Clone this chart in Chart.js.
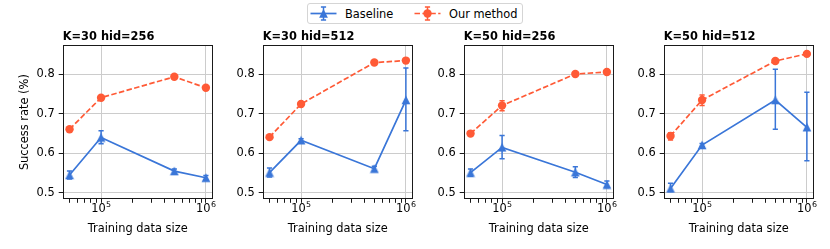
<!DOCTYPE html>
<html><head><meta charset="utf-8">
<script src="https://cdn.jsdelivr.net/npm/chart.js@4.4.1/dist/chart.umd.min.js"></script>
<style>
html,body{margin:0;padding:0;background:#fff;width:830px;height:249px;overflow:hidden;}
canvas.panel{position:absolute;top:0;}
svg#legend{position:absolute;left:0;top:0;}
</style></head><body>
<svg id="legend" width="830" height="30"></svg>
<canvas class="panel" id="c0" width="217" height="249" style="left:0px;width:217px;height:249px"></canvas>
<canvas class="panel" id="c1" width="217" height="249" style="left:200px;width:217px;height:249px"></canvas>
<canvas class="panel" id="c2" width="217" height="249" style="left:401px;width:217px;height:249px"></canvas>
<canvas class="panel" id="c3" width="217" height="249" style="left:601px;width:217px;height:249px"></canvas>
<script>
// ---------------- data ----------------
const seriesNames = ['Baseline', 'Our method'];
const panelTitles = ['K=30 hid=256', 'K=30 hid=512', 'K=50 hid=256', 'K=50 hid=512'];
const dataSizes = [50000, 100000, 500000, 1000000];

const baselineK30h256 = [0.545, 0.640, 0.555, 0.538];
const baselineK30h256Lo = [0.535, 0.624, 0.549, 0.532];
const baselineK30h256Hi = [0.555, 0.657, 0.560, 0.544];
const oursK30h256 = [0.661, 0.741, 0.794, 0.766];
const oursK30h256Lo = [0.658, 0.738, 0.791, 0.763];
const oursK30h256Hi = [0.664, 0.744, 0.797, 0.769];

const baselineK30h512 = [0.551, 0.633, 0.561, 0.735];
const baselineK30h512Lo = [0.540, 0.629, 0.555, 0.657];
const baselineK30h512Hi = [0.563, 0.637, 0.567, 0.816];
const oursK30h512 = [0.641, 0.725, 0.830, 0.835];
const oursK30h512Lo = [0.638, 0.722, 0.827, 0.832];
const oursK30h512Hi = [0.644, 0.728, 0.833, 0.838];

const baselineK50h256 = [0.551, 0.615, 0.552, 0.521];
const baselineK50h256Lo = [0.542, 0.586, 0.539, 0.513];
const baselineK50h256Hi = [0.560, 0.645, 0.566, 0.530];
const oursK50h256 = [0.650, 0.721, 0.801, 0.806];
const oursK50h256Lo = [0.647, 0.708, 0.798, 0.803];
const oursK50h256Hi = [0.653, 0.733, 0.804, 0.809];

const baselineK50h512 = [0.511, 0.621, 0.735, 0.666];
const baselineK50h512Lo = [0.503, 0.617, 0.661, 0.581];
const baselineK50h512Hi = [0.524, 0.625, 0.813, 0.755];
const oursK50h512 = [0.644, 0.735, 0.834, 0.852];
const oursK50h512Lo = [0.634, 0.721, 0.831, 0.849];
const oursK50h512Hi = [0.652, 0.748, 0.837, 0.855];

const yTickValues = [0.5, 0.6, 0.7, 0.8];
const xTickValues = [50000, 60000, 70000, 80000, 90000, 100000, 200000, 300000, 400000, 500000, 600000, 700000, 800000, 900000, 1000000];
const xMajorTicks = [100000, 1000000];
const xMajorBase = ['10', '10'];
const xMajorExp = ['5', '6'];
const yAxisTitle = 'Success rate (%)';
const xAxisTitle = 'Training data size';

const baselineSets = [baselineK30h256, baselineK30h512, baselineK50h256, baselineK50h512];
const baselineLos = [baselineK30h256Lo, baselineK30h512Lo, baselineK50h256Lo, baselineK50h512Lo];
const baselineHis = [baselineK30h256Hi, baselineK30h512Hi, baselineK50h256Hi, baselineK50h512Hi];
const oursSets = [oursK30h256, oursK30h512, oursK50h256, oursK50h512];
const oursLos = [oursK30h256Lo, oursK30h512Lo, oursK50h256Lo, oursK50h512Lo];
const oursHis = [oursK30h256Hi, oursK30h512Hi, oursK50h256Hi, oursK50h512Hi];

// ---------------- style ----------------
const BLUE = '#3a76d8';
const ORANGE = '#ff5a36';
const FONT = '"DejaVu Sans", sans-serif';
const FS = 11.4;
const GRID = '#cccccc';
const SPINE = '#1a1a1a';
const LW = 1.7;
const xMin = 43040, xMax = 1161500;
const yMin = 0.4835, yMax = 0.8745;
const CANVAS_H = 249, CANVAS_W = 217;
const AREA_LEFT = 62.7, AREA_RIGHT = 212.7, AREA_TOP = 45, AREA_BOTTOM = 199.3;

const pts = arr => arr.map((v, i) => ({x: dataSizes[i], y: v}));

// matplotlib-like '^' marker (as wide as tall)
const triMarker = (function () {
  const c = document.createElement('canvas');
  c.width = 10; c.height = 10;
  const g = c.getContext('2d');
  g.fillStyle = BLUE;
  g.beginPath();
  g.moveTo(5, 0.6); g.lineTo(9.4, 9.2); g.lineTo(0.6, 9.2); g.closePath();
  g.fill();
  return c;
})();

const errorBarPlugin = {
  id: 'errorBars',
  beforeDatasetsDraw(chart) {
    const ctx = chart.ctx, yS = chart.scales.y;
    chart.data.datasets.forEach((ds, d) => {
      if (!ds.errLo) return;
      const meta = chart.getDatasetMeta(d);
      ctx.save();
      ctx.strokeStyle = ds.borderColor;
      ctx.lineWidth = 1.5;
      ctx.setLineDash([]);
      meta.data.forEach((el, j) => {
        const x = el.x;
        const y1 = yS.getPixelForValue(ds.errLo[j]);
        const y2 = yS.getPixelForValue(ds.errHi[j]);
        ctx.beginPath();
        ctx.moveTo(x, y1); ctx.lineTo(x, y2);
        ctx.moveTo(x - 2.6, y1); ctx.lineTo(x + 2.6, y1);
        ctx.moveTo(x - 2.6, y2); ctx.lineTo(x + 2.6, y2);
        ctx.stroke();
      });
      ctx.restore();
    });
  }
};

const framePlugin = {
  id: 'frame',
  afterDraw(chart, args, opts) {
    const ctx = chart.ctx, a = chart.chartArea, xS = chart.scales.x;
    ctx.save();
    ctx.strokeStyle = SPINE;
    ctx.lineWidth = 1;
    const l = Math.round(a.left) + 0.5, t = Math.round(a.top) + 0.5;
    const r = Math.round(a.right) - 0.5, b = Math.round(a.bottom) - 0.5;
    ctx.strokeRect(l, t, r - l, b - t);
    ctx.fillStyle = '#000';
    // panel title
    ctx.font = 'bold ' + FS + 'px ' + FONT;
    ctx.textBaseline = 'alphabetic';
    ctx.textAlign = 'left';
    ctx.fillText(opts.text, a.left, 40);
    // major x tick labels with superscript exponent
    xMajorTicks.forEach((v, k) => {
      const px = xS.getPixelForValue(v);
      ctx.font = FS + 'px ' + FONT;
      const w1 = ctx.measureText(xMajorBase[k]).width;
      ctx.font = (FS * 0.7) + 'px ' + FONT;
      const w2 = ctx.measureText(xMajorExp[k]).width;
      const x0 = px - (w1 + w2) / 2;
      ctx.font = FS + 'px ' + FONT;
      ctx.fillText(xMajorBase[k], x0, 212);
      ctx.font = (FS * 0.7) + 'px ' + FONT;
      ctx.fillText(xMajorExp[k], x0 + w1 + 0.3, 207);
    });
    ctx.restore();
  }
};

function makeChart(i) {
  const cfg = {
    type: 'line',
    data: {
      datasets: [
        {
          label: seriesNames[1],
          data: pts(oursSets[i]),
          errLo: oursLos[i], errHi: oursHis[i],
          borderColor: ORANGE, backgroundColor: ORANGE,
          borderWidth: LW, borderDash: [5.5, 2.4],
          pointStyle: 'circle', pointRadius: 4.2, pointBorderWidth: 0,
          pointBackgroundColor: ORANGE, tension: 0
        },
        {
          label: seriesNames[0],
          data: pts(baselineSets[i]),
          errLo: baselineLos[i], errHi: baselineHis[i],
          borderColor: BLUE, backgroundColor: BLUE,
          borderWidth: LW,
          pointStyle: triMarker, pointRadius: 5, pointBorderWidth: 0,
          pointBackgroundColor: BLUE, tension: 0
        }
      ]
    },
    options: {
      responsive: false, animation: false, devicePixelRatio: 1,
      layout: {autoPadding: false, padding: {left: 0, right: CANVAS_W - AREA_RIGHT, top: AREA_TOP, bottom: 0}},
      plugins: {legend: {display: false}, tooltip: {enabled: false}, frame: {text: panelTitles[i]}},
      scales: {
        x: {
          type: 'logarithmic', min: xMin, max: xMax, bounds: 'data',
          afterBuildTicks: s => { s.ticks = xTickValues.map(v => ({value: v})); },
          afterFit: s => { s.height = CANVAS_H - AREA_BOTTOM; s.paddingLeft = 0; s.paddingRight = 0; },
          ticks: {
            autoSkip: false, maxRotation: 0, minRotation: 0, padding: 1,
            color: '#000', font: {family: FONT, size: FS},
            callback: () => ''
          },
          grid: {
            color: c => (c.tick && xMajorTicks.indexOf(c.tick.value) >= 0) ? GRID : 'rgba(0,0,0,0)',
            tickColor: SPINE, tickLength: 3.5, lineWidth: 1
          },
          border: {display: false},
          title: {display: true, text: xAxisTitle, color: '#000', font: {family: FONT, size: FS}, padding: {top: 0, bottom: 13.2}}
        },
        y: {
          type: 'linear', min: yMin, max: yMax, bounds: 'data',
          afterBuildTicks: s => { s.ticks = yTickValues.map(v => ({value: v})); },
          afterFit: s => { s.width = AREA_LEFT; s.paddingTop = 0; s.paddingBottom = 0; },
          ticks: {padding: 4, color: '#000', font: {family: FONT, size: FS}, callback: v => v.toFixed(1)},
          grid: {color: GRID, tickColor: SPINE, tickLength: 4, lineWidth: 1},
          border: {display: false},
          title: {display: i === 0, text: yAxisTitle, color: '#000', font: {family: FONT, size: FS}, padding: {top: 18.2, bottom: 0}}
        }
      }
    },
    plugins: [errorBarPlugin, framePlugin]
  };
  return new Chart(document.getElementById('c' + i), cfg);
}
for (let i = 0; i < 4; i++) makeChart(i);

// ---------------- legend ----------------
(function () {
  const svg = document.getElementById('legend');
  const NS = 'http://www.w3.org/2000/svg';
  const el = (tag, attrs, text) => {
    const e = document.createElementNS(NS, tag);
    for (const k in attrs) e.setAttribute(k, attrs[k]);
    if (text) e.textContent = text;
    svg.appendChild(e);
    return e;
  };
  el('rect', {x: 307.5, y: 3.5, width: 215, height: 20, rx: 2.5, fill: '#fff', stroke: '#d5d5d5', 'stroke-width': 1});
  const cy = 13.5;
  // Baseline handle
  el('line', {x1: 310.5, y1: cy, x2: 336.5, y2: cy, stroke: BLUE, 'stroke-width': LW});
  el('path', {d: `M323.5 ${cy - 6.5} V${cy + 6.5} M320.9 ${cy - 6.5} H326.1 M320.9 ${cy + 6.5} H326.1`, stroke: BLUE, 'stroke-width': 1.5, fill: 'none'});
  el('path', {d: `M323.5 ${cy - 4.4} L327.9 ${cy + 4.2} L319.1 ${cy + 4.2} Z`, fill: BLUE});
  el('text', {x: 345, y: cy + 4, 'font-family': 'DejaVu Sans', 'font-size': FS, fill: '#000'}, seriesNames[0]);
  // Our method handle
  el('line', {x1: 414.5, y1: cy, x2: 440.5, y2: cy, stroke: ORANGE, 'stroke-width': LW, 'stroke-dasharray': '5.5 2.4'});
  el('path', {d: `M427.5 ${cy - 6.5} V${cy + 6.5} M424.9 ${cy - 6.5} H430.1 M424.9 ${cy + 6.5} H430.1`, stroke: ORANGE, 'stroke-width': 1.5, fill: 'none'});
  el('circle', {cx: 427.5, cy: cy, r: 4.2, fill: ORANGE});
  el('text', {x: 449, y: cy + 4, 'font-family': 'DejaVu Sans', 'font-size': FS, fill: '#000'}, seriesNames[1]);
})();
</script>
</body></html>
